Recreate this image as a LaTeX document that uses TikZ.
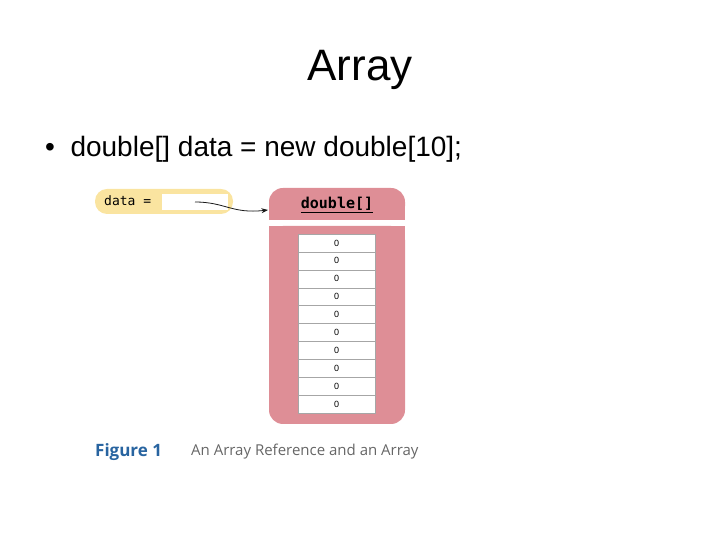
\documentclass[tikz,border=0pt]{standalone}
\usepackage{fontspec}
\setmainfont{Liberation Sans}
\newfontfamily\capfont{Open Sans}
\newfontfamily\monofont{DejaVu Sans Mono}
\usetikzlibrary{arrows.meta,positioning}
\definecolor{pinkarr}{RGB}{222,142,150}
\definecolor{yelref}{RGB}{250,228,160}
\definecolor{figblue}{RGB}{40,100,160}
\begin{document}
\begin{tikzpicture}[x=1pt,y=1pt,>=Stealth,
    cell/.style={draw=gray!70,fill=white,minimum width=77pt,minimum height=17.9pt,inner sep=0pt,font=\fontsize{9}{9}\selectfont},
    other node/.style={inner sep=0pt}]
    \useasboundingbox (0,0) rectangle (720,540);
    \node[other node] (title) at (360,470) {\fontsize{44}{44}\selectfont Array};
    \node[other node,anchor=west] (code) at (45,391) {\fontsize{28}{28}\selectfont \textbullet\ \ double[] data = new double[10];};
    % reference
    \node[fill=yelref,rounded corners=12pt,minimum width=138pt,minimum height=25pt] (ref) at (164,338.5) {};
    \node[other node,anchor=west,font=\monofont\fontsize{13}{13}\selectfont] (lbl) at (104,339) {data =};
    \node[fill=white,minimum width=66pt,minimum height=16pt,inner sep=0pt] (slot) at (195,338) {};
    % array object
    \fill[pinkarr,rounded corners=14pt] (269,320) rectangle (405,352);
    \fill[pinkarr] (269,320) rectangle (405,332);
    \fill[pinkarr,rounded corners=14pt] (269,116) rectangle (405,314);
    \fill[pinkarr] (269,300) rectangle (405,314);
    \node[other node,font=\monofont\bfseries\fontsize{15}{15}\selectfont] (head) at (337,335) {\underline{double[]}};
    \foreach \i in {0,...,9}
        \node[cell] (c\i) at (336.5,297-17.9*\i) {0};
    \coordinate (tip) at (268,330);
    \draw[->,thick,gray!20!black] (slot.center) .. controls (225,338) and (232,326) .. (tip);
    % caption
    \node[other node,anchor=west,font=\capfont\bfseries\fontsize{17}{17}\selectfont,text=figblue] (fig) at (95,88) {Figure 1};
    \node[other node,anchor=west,font=\capfont\fontsize{15}{15}\selectfont,text=gray!80!black] (cap) at (191,88) {An Array Reference and an Array};
\end{tikzpicture}
\end{document}
